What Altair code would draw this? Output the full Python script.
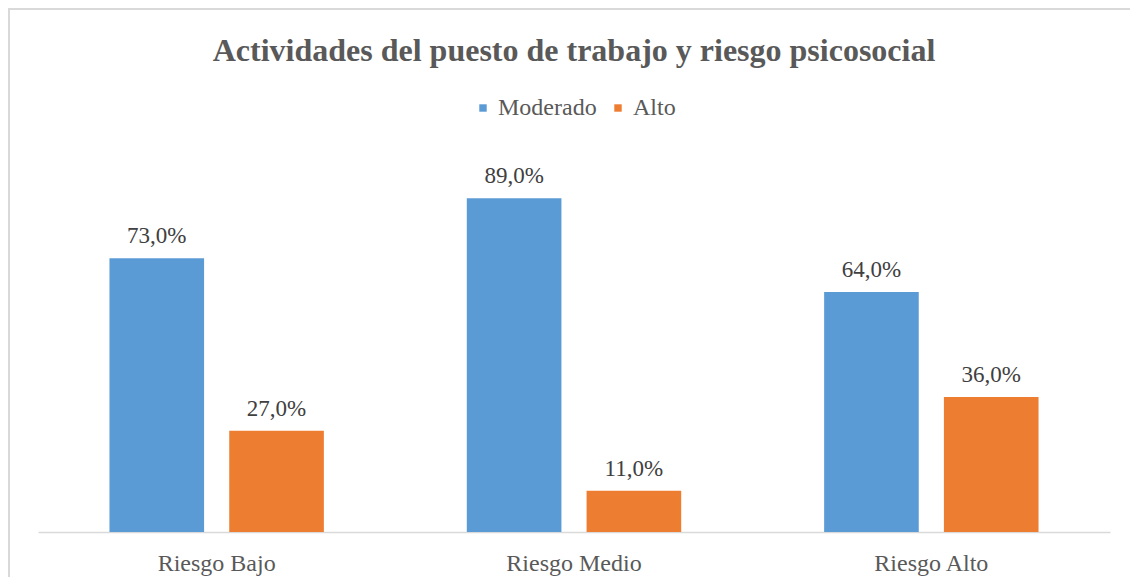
import altair as alt
import pandas as pd

categorias = ["Riesgo Bajo", "Riesgo Medio", "Riesgo Alto"]
series = ["Moderado", "Alto"]
moderado = [0.73, 0.89, 0.64]
alto = [0.27, 0.11, 0.36]

rows = []
for i, c in enumerate(categorias):
    rows.append({"categoria": c, "serie": "Moderado", "valor": moderado[i]})
    rows.append({"categoria": c, "serie": "Alto", "valor": alto[i]})
df = pd.DataFrame(rows)

FONT = "'Liberation Serif', 'Times New Roman', 'DejaVu Serif', serif"

base = alt.Chart(df).encode(
    x=alt.X("categoria:N", sort=categorias, title=None,
            scale=alt.Scale(paddingInner=0.4, paddingOuter=0.2),
            axis=alt.Axis(labelAngle=0, labelFont=FONT, labelFontSize=24,
                          labelColor="#595959", labelPadding=19, ticks=False,
                          domainColor="#d9d9d9", domainWidth=1.5)),
    xOffset=alt.XOffset("serie:N", sort=series,
                        scale=alt.Scale(paddingInner=0.21, paddingOuter=0)),
    y=alt.Y("valor:Q", scale=alt.Scale(domain=[0, 1]), axis=None),
)

bars = base.mark_bar().encode(
    color=alt.Color("serie:N", sort=series,
                    scale=alt.Scale(domain=series, range=["#5B9BD5", "#ED7D31"]),
                    legend=alt.Legend(title=None, orient="none", direction="horizontal",
                                      legendX=433, legendY=-61, symbolType="square",
                                      symbolSize=55, symbolStrokeWidth=0,
                                      labelFont=FONT, labelFontSize=24,
                                      labelColor="#595959", labelOffset=3,
                                      columnPadding=9))
)

labels = base.transform_calculate(
    etiqueta="replace(format(datum.valor, '.1%'), '.', ',')"
).mark_text(font=FONT, fontSize=23, color="#404040", baseline="alphabetic", dy=-15).encode(
    text="etiqueta:N"
)

frame = alt.Chart(df).mark_rect(fill=None, stroke="#d9d9d9", strokeWidth=2).encode(
    x=alt.value(-29), x2=alt.value(1120), y=alt.value(-148), y2=alt.value(460)
)

chart = alt.layer(frame, bars, labels).properties(
    width=1072, height=375,
    autosize=alt.AutoSizeParams(type="none"),
    padding={"left": 30, "top": 149, "right": 20, "bottom": 45},
    title=alt.TitleParams("Actividades del puesto de trabajo y riesgo psicosocial",
                          font=FONT, fontSize=32, fontWeight="bold", color="#595959",
                          anchor="middle", offset=-60),
).configure_view(stroke=None)

chart.save("out.html", embed_options={"renderer": "svg", "actions": False})
